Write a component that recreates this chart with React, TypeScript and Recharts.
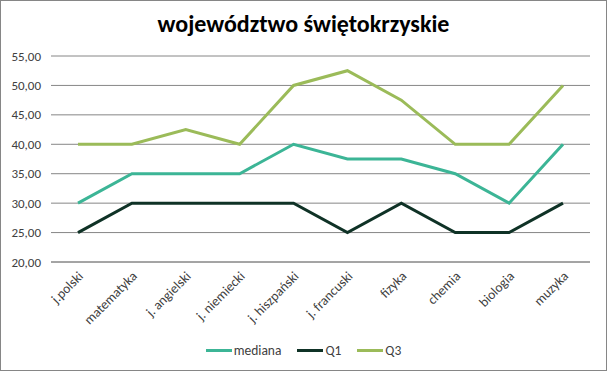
import React from "react";
import { CartesianGrid, Line, LineChart, XAxis, YAxis } from "recharts";

const subjects = [
  "j.polski",
  "matematyka",
  "j. angielski",
  "j. niemiecki",
  "j. hiszpański",
  "j. francuski",
  "fizyka",
  "chemia",
  "biologia",
  "muzyka",
];
const mediana = [30, 35, 35, 35, 40, 37.5, 37.5, 35, 30, 40];
const q1 = [25, 30, 30, 30, 30, 25, 30, 25, 25, 30];
const q3 = [40, 40, 42.5, 40, 50, 52.5, 47.5, 40, 40, 50];
const yTicks = [20, 25, 30, 35, 40, 45, 50, 55];

const series = [
  { key: "mediana", color: "#3cb596" },
  { key: "Q1", color: "#0f3226" },
  { key: "Q3", color: "#9bbb59" },
];

const data = subjects.map((name, i) => ({
  name,
  mediana: mediana[i],
  Q1: q1[i],
  Q3: q3[i],
}));

const font = "Carlito, 'Open Sans', sans-serif";

const XTick = (props: any) => {
  const { x, y, payload } = props;
  return (
    <text
      x={x + 6}
      y={y + 7}
      textAnchor="end"
      transform={`rotate(-45 ${x + 6} ${y + 7})`}
      fontSize={13.5}
      fill="#404040"
      fontFamily={font}
    >
      {payload.value}
    </text>
  );
};

const App = () => {
  return (
    <div
      style={{
        position: "absolute",
        left: 0,
        top: 0,
        width: 607,
        height: 371,
        boxSizing: "border-box",
        border: "1px solid #868686",
        background: "#fff",
        fontFamily: font,
      }}
    >
      <div
        style={{
          position: "absolute",
          top: 8,
          left: 0,
          width: 605,
          textAlign: "center",
          fontSize: 24,
          fontWeight: "bold",
          color: "#000",
        }}
      >
        województwo świętokrzyskie
      </div>
      <div style={{ position: "absolute", left: -1, top: -1 }}>
        <LineChart
          width={607}
          height={371}
          data={data}
          margin={{ top: 56, right: 17, bottom: 29, left: 0 }}
        >
          <CartesianGrid vertical={false} stroke="#868686" strokeWidth={1} />
          <XAxis
            dataKey="name"
            interval={0}
            padding={{ left: 27, right: 27 }}
            tickLine={false}
            axisLine={{ stroke: "#868686" }}
            tick={<XTick />}
            height={80}
          />
          <YAxis
            width={51}
            domain={[20, 55]}
            ticks={yTicks}
            tickLine={false}
            axisLine={false}
            tickSize={0}
            tickMargin={10}
            tick={{ fontSize: 13, fill: "#404040", fontFamily: font }}
            tickFormatter={(v) => v.toFixed(2).replace(".", ",")}
          />
          {series.map((s) => (
            <Line
              key={s.key}
              dataKey={s.key}
              stroke={s.color}
              strokeWidth={3}
              dot={false}
              activeDot={false}
              isAnimationActive={false}
            />
          ))}
        </LineChart>
      </div>
      <div
        style={{
          position: "absolute",
          top: 341,
          left: 0,
          width: 605,
          display: "flex",
          justifyContent: "center",
          fontSize: 13.5,
          color: "#404040",
        }}
      >
        {series.map((s) => (
          <div
            key={s.key}
            style={{ display: "flex", alignItems: "center", margin: "0 8px" }}
          >
            <div
              style={{ width: 26, height: 3, background: s.color, marginRight: 2 }}
            />
            <span>{s.key}</span>
          </div>
        ))}
      </div>
    </div>
  );
};

export default App;
